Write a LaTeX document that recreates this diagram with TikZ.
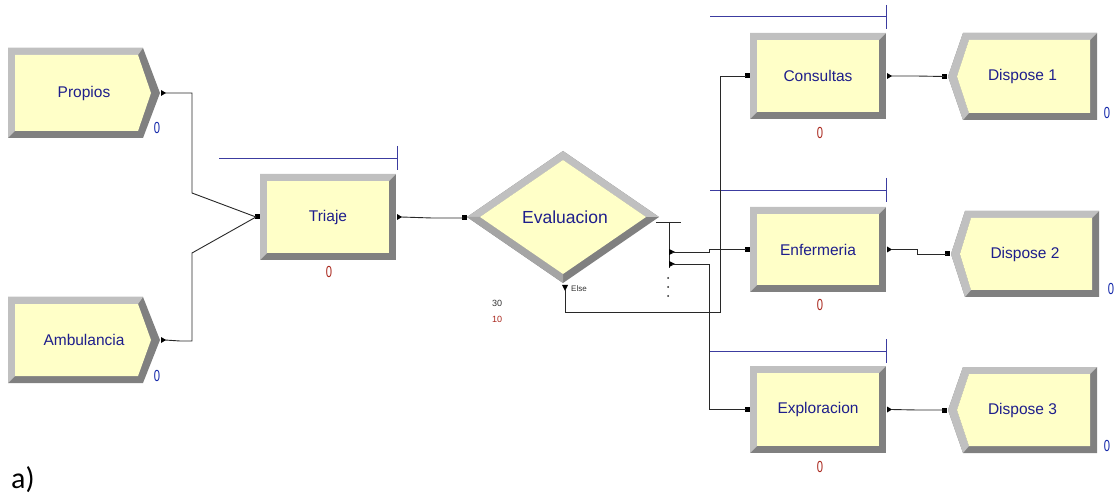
\documentclass[tikz,border=0pt]{standalone}
\usepackage{fontspec}
\setmainfont{Liberation Sans}
\newfontfamily\calib{Carlito}
\usetikzlibrary{calc}
\definecolor{modfill}{RGB}{255,255,200}
\definecolor{bevlt}{RGB}{192,192,192}
\definecolor{bevmd}{RGB}{165,165,165}
\definecolor{bevdk}{RGB}{128,128,128}
\definecolor{txtblue}{RGB}{30,30,140}
\definecolor{qline}{RGB}{60,60,160}
\definecolor{cntred}{RGB}{170,40,30}
\definecolor{cntblue}{RGB}{20,40,170}
\definecolor{connc}{RGB}{40,40,40}
\tikzset{
  modtext/.style={inner sep=0pt, text=txtblue, font=\fontsize{15.5}{17}\selectfont},
  cntr/.style={inner sep=0pt, text=cntred, font=\fontsize{16}{17}\selectfont, xscale=0.7},
  cntb/.style={inner sep=0pt, text=cntblue, font=\fontsize{16}{17}\selectfont, xscale=0.7},
  conn/.style={draw=connc, line width=0.9pt},
  qbar/.style={draw=qline, line width=1pt},
}
% rectangle module: name, x1, y1, x2, y2, text
\newcommand{\ArRect}[6]{%
  \fill[bevdk] (#2,#3) rectangle (#4,#5);
  \fill[bevlt] (#2,#3) -- (#4,#3) -- ({#4-7},{#3+7}) -- ({#2+7},{#3+7}) -- ({#2+7},{#5-7}) -- (#2,#5) -- cycle;
  \fill[modfill] ({#2+7},{#3+7}) rectangle ({#4-7},{#5-7});
  \node[modtext, minimum width={(#4-#2)*1pt}, minimum height={(#5-#3)*1pt}] (#1) at ({(#2+#4)/2},{(#3+#5)/2}) {#6};
  \fill[black] ({#2-5},{(#3+#5)/2-2.5}) rectangle ({#2},{(#3+#5)/2+2.5});
  \fill[black] ({#4+1},{(#3+#5)/2-3}) -- ({#4+6},{(#3+#5)/2}) -- ({#4+1},{(#3+#5)/2+3}) -- cycle;
  \coordinate (#1-in) at ({#2-4},{(#3+#5)/2});
  \coordinate (#1-out) at ({#4+5},{(#3+#5)/2});
}
% create module: name, x1, y1, x2 (body end), tipx, y2, text
\newcommand{\ArCreate}[7]{%
  \fill[bevdk] (#2,#3) -- (#4,#3) -- (#5,{(#3+#6)/2}) -- (#4,#6) -- (#2,#6) -- cycle;
  \fill[bevlt] (#2,#3) -- (#4,#3) -- ({#4-5},{#3+7}) -- ({#2+7},{#3+7}) -- ({#2+7},{#6-7}) -- (#2,#6) -- cycle;
  \fill[modfill] ({#2+7},{#3+7}) -- ({#4-5},{#3+7}) -- ({#5-9},{(#3+#6)/2}) -- ({#4-5},{#6-7}) -- ({#2+7},{#6-7}) -- cycle;
  \node[modtext, minimum width={(#5-#2)*1pt}, minimum height={(#6-#3)*1pt}] (#1) at ({(#2+#5)/2},{(#3+#6)/2}) {#7};
  \fill[black] ({#5+1},{(#3+#6)/2-3}) -- ({#5+6},{(#3+#6)/2}) -- ({#5+1},{(#3+#6)/2+3}) -- cycle;
  \coordinate (#1-out) at ({#5+5},{(#3+#6)/2});
}
% dispose module: name, tipx, x1 (body start), y1, x2, y2, text
\newcommand{\ArDispose}[7]{%
  \fill[bevdk] (#2,{(#4+#6)/2}) -- (#3,#4) -- (#5,#4) -- (#5,#6) -- (#3,#6) -- cycle;
  \fill[bevlt] (#2,{(#4+#6)/2}) -- (#3,#4) -- (#5,#4) -- ({#5-7},{#4+7}) -- ({#3+6},{#4+7}) -- ({#2+9},{(#4+#6)/2}) -- ({#3+6},{#6-7}) -- (#3,#6) -- cycle;
  \fill[modfill] ({#2+9},{(#4+#6)/2}) -- ({#3+6},{#4+7}) -- ({#5-7},{#4+7}) -- ({#5-7},{#6-7}) -- ({#3+6},{#6-7}) -- cycle;
  \node[modtext, minimum width={(#5-#2)*1pt}, minimum height={(#6-#4)*1pt}] (#1) at ({(#2+#5)/2},{(#4+#6)/2}) {#7};
  \fill[black] ({#2-6},{(#4+#6)/2-2.5}) rectangle ({#2-1},{(#4+#6)/2+2.5});
  \coordinate (#1-in) at ({#2-4},{(#4+#6)/2});
}
\begin{document}
\begin{tikzpicture}[x=1pt, y=-1pt]
\useasboundingbox[fill=white] (0,0) rectangle (1115,502);

% ---- modules ----
\ArCreate{Propios}{8}{48}{143}{160}{138}{Propios}
\ArCreate{Ambulancia}{8}{297}{143}{160}{383}{Ambulancia}
\ArRect{Triaje}{260}{174}{396}{260}{Triaje}
\ArRect{Consultas}{750}{33}{886}{119}{Consultas}
\ArRect{Enfermeria}{750}{207}{886}{292}{Enfermeria}
\ArRect{Exploracion}{750}{366}{886}{453}{Exploracion}
\ArDispose{Dispose1}{948}{963}{33}{1097}{120}{Dispose 1}
\ArDispose{Dispose2}{951}{965}{211}{1099}{297}{Dispose 2}
\ArDispose{Dispose3}{948}{963}{367}{1097}{453}{Dispose 3}

% ---- decision ----
\fill[bevdk] (467,217) -- (563,151) -- (659,217) -- (563,283) -- cycle;
\fill[bevlt] (467,217) -- (563,151) -- (659,217) -- (646,217) -- (563,160) -- (480,217) -- cycle;
\fill[bevmd] (467,217) -- (480,217) -- (563,274) -- (563,283) -- cycle;
\fill[modfill] (480,217) -- (563,160) -- (646,217) -- (563,274) -- cycle;
\node[inner sep=0pt, text=txtblue, font=\fontsize{17.5}{19}\selectfont, minimum width=192pt, minimum height=132pt] (Evaluacion) at (565,217) {Evaluacion};
\fill[black] (462,215.5) rectangle (467,220.5);
\coordinate (Evaluacion-in) at (464,218);
\coordinate (Tee) at (669,222);
\draw[conn] (656,222) -- (681,222);
\draw[conn] (Tee) -- (669,268);
\fill[black] (669,249) -- (675,252) -- (669,255) -- cycle;
\fill[black] (669,261) -- (675,264) -- (669,267) -- cycle;
\coordinate (Br1) at (672,252);
\coordinate (Br2) at (672,264);
\foreach \yy in {278,287,296} \fill[connc] (668,\yy) circle (1pt);
\fill[black] (562,285) -- (568,285) -- (565,291) -- cycle;
\coordinate (Else) at (565,290);
\node[inner sep=0pt, anchor=west, font=\fontsize{8}{9}\selectfont, text=black!80] (ElseLbl) at (571,289) {Else};
\node[inner sep=0pt, font=\fontsize{9}{10}\selectfont, text=black!80] (c30) at (497,303) {30};
\node[inner sep=0pt, font=\fontsize{9}{10}\selectfont, text=cntred] (c10) at (497,319) {10};

% ---- queues ----
\draw[qbar] (219,159) -- (397,159); \draw[qbar] (397,146) -- (397,170);
\draw[qbar] (710,17) -- (886,17); \draw[qbar] (886,5) -- (886,29);
\draw[qbar] (710,191) -- (886,191); \draw[qbar] (886,178) -- (886,202);
\draw[qbar] (710,351) -- (886,351); \draw[qbar] (886,339) -- (886,363);

% ---- counters ----
\node[cntb] (n1) at (157,128) {0};
\node[cntb] (n2) at (157,376) {0};
\node[cntr] (n3) at (329,272) {0};
\node[cntr] (n4) at (820,133) {0};
\node[cntr] (n5) at (820,305) {0};
\node[cntr] (n6) at (820,467) {0};
\node[cntb] (n7) at (1107,113) {0};
\node[cntb] (n8) at (1111,289) {0};
\node[cntb] (n9) at (1107,446) {0};

% ---- connectors ----
\draw[conn] (Propios-out) -- (192,93) -- (192,193) -- (Triaje-in);
\draw[conn] (Ambulancia-out) -- (180,341) -- (192,341) -- (192,253) -- (Triaje-in);
\draw[conn] (Triaje-out) -- (432,218) -- (Evaluacion-in);
\draw[conn] (Br1) -- (709,252) -- (709,249.5) -- (Enfermeria-in);
\draw[conn] (Br2) -- (709,264) -- (709,409.5) -- (Exploracion-in);
\draw[conn] (Else) -- (565,312) -- (720,312) -- (720,76) -- (Consultas-in);
\draw[conn] (Consultas-out) -- (916,76) -- (Dispose1-in);
\draw[conn] (Enfermeria-out) -- (917,249.5) -- (917,254) -- (Dispose2-in);
\draw[conn] (Exploracion-out) -- (917,410) -- (Dispose3-in);

% ---- caption ----
\node[inner sep=0pt, anchor=west, font=\calib\fontsize{30}{32}\selectfont] (cap) at (11,480) {a)};
\end{tikzpicture}
\end{document}
